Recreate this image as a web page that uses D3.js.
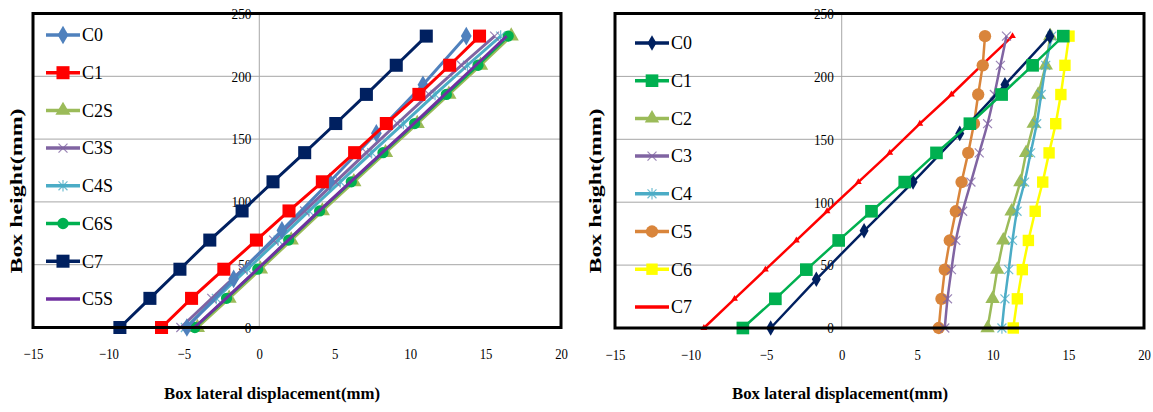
<!DOCTYPE html>
<html>
<head>
<meta charset="utf-8">
<script src="https://cdn.jsdelivr.net/npm/d3@7"></script>
<style>
  body { margin: 0; background: #fff; }
  svg { display: block; }
  text { font-family: "Liberation Serif", "Times New Roman", "DejaVu Serif", serif; }
</style>
</head>
<body>
<script>
// heights of the readings
const H11 = [0, 23.2, 46.4, 69.6, 92.8, 116, 139.2, 162.4, 185.6, 208.8, 232]
const H7 = [0, 38.7, 77.3, 116, 154.7, 193.3, 232]

// left panel
const L_C0 = [-4.8, -1.7, 1.5, 4.67, 7.76, 10.85, 13.72]
const L_C1 = [-6.48, -4.49, -2.35, -0.19, 1.97, 4.18, 6.32, 8.42, 10.58, 12.62, 14.6]
const L_C2S = [-4.1, -2.0, 0.08, 2.12, 4.18, 6.27, 8.37, 10.47, 12.57, 14.67, 16.7]
const L_C3S = [-5.2, -3.15, -1.1, 0.95, 3.0, 5.05, 7.1, 9.15, 11.25, 13.4, 15.6]
const L_C4S = [-4.9, -2.85, -0.8, 1.25, 3.3, 5.37, 7.45, 9.55, 11.65, 13.8, 16.0]
const L_C6S = [-4.27, -2.17, -0.1, 1.95, 4.0, 6.1, 8.2, 10.3, 12.4, 14.5, 16.5]
const L_C7 = [-9.24, -7.25, -5.26, -3.28, -1.14, 0.91, 3.01, 5.07, 7.1, 9.08, 11.07]
const L_C5S = [-4.3, -2.2, -0.13, 1.92, 3.97, 6.05, 8.15, 10.25, 12.3, 14.35, 16.4]

// right panel
const R_C0 = [-4.7, -1.68, 1.48, 4.72, 7.81, 10.8, 13.77]
const R_C1 = [-6.54, -4.39, -2.34, -0.2, 1.97, 4.17, 6.27, 8.48, 10.58, 12.63, 14.66]
const R_C2 = [9.65, 9.98, 10.29, 10.69, 11.24, 11.82, 12.2, 12.7, 13.0, 13.5, 13.8]
const R_C3 = [6.82, 7.0, 7.26, 7.55, 8.0, 8.55, 9.1, 9.65, 10.1, 10.5, 10.9]
const R_C4 = [10.6, 10.8, 11.05, 11.3, 11.6, 12.1, 12.5, 12.9, 13.2, 13.5, 13.9]
const R_C5 = [6.42, 6.6, 6.82, 7.15, 7.55, 7.93, 8.37, 8.75, 9.03, 9.33, 9.48]
const R_C6 = [11.35, 11.62, 11.95, 12.35, 12.8, 13.3, 13.72, 14.16, 14.5, 14.77, 15.04]
const R_C7 = [-9.12, -7.09, -5.05, -3.0, -0.97, 1.1, 3.18, 5.17, 7.26, 9.25, 11.3]

const X_TICKS = [-15, -10, -5, 0, 5, 10, 15, 20]
const Y_TICKS = [0, 50, 100, 150, 200, 250]
const X_TITLE = 'Box lateral displacement(mm)'
const Y_TITLE = 'Box height(mm)'

const leftSeries = [
  {name: 'C0', x: L_C0, y: H7, color: '#4f81bd', marker: 'diamond', size: 100},
  {name: 'C1', x: L_C1, y: H11, color: '#ff0000', marker: 'square', size: 170},
  {name: 'C2S', x: L_C2S, y: H11, color: '#9bbb59', marker: 'triangle', size: 100},
  {name: 'C3S', x: L_C3S, y: H11, color: '#8064a2', marker: 'x', size: 80},
  {name: 'C4S', x: L_C4S, y: H11, color: '#4bacc6', marker: 'star', size: 80},
  {name: 'C6S', x: L_C6S, y: H11, color: '#00b050', marker: 'circle', size: 100},
  {name: 'C7', x: L_C7, y: H11, color: '#002060', marker: 'square', size: 170},
  {name: 'C5S', x: L_C5S, y: H11, color: '#7030a0', marker: 'none', size: 0}
]
// drawing order (bottom to top) so the picture stacks like the original
const leftOrder = ['C2S', 'C6S', 'C4S', 'C3S', 'C5S', 'C0', 'C1', 'C7']

const rightSeries = [
  {name: 'C0', x: R_C0, y: H7, color: '#002060', marker: 'diamond', size: 70},
  {name: 'C1', x: R_C1, y: H11, color: '#00b050', marker: 'square', size: 160},
  {name: 'C2', x: R_C2, y: H11, color: '#9bbb59', marker: 'triangle', size: 90},
  {name: 'C3', x: R_C3, y: H11, color: '#8064a2', marker: 'x', size: 80},
  {name: 'C4', x: R_C4, y: H11, color: '#4bacc6', marker: 'star', size: 80},
  {name: 'C5', x: R_C5, y: H11, color: '#d9853b', marker: 'circle', size: 120},
  {name: 'C6', x: R_C6, y: H11, color: '#ffff00', marker: 'square', size: 130},
  {name: 'C7', x: R_C7, y: H11, color: '#ff0000', marker: 'tick', size: 20}
]
const rightOrder = ['C7', 'C5', 'C3', 'C2', 'C4', 'C6', 'C0', 'C1']

const W = 1153, HGT = 412
const SVG = d3.select('body').append('svg')
  .attr('width', W)
  .attr('height', HGT)

function markerPath(type, size) {
  if (type === 'diamond') return d3.symbol(d3.symbolDiamond, size)()
  if (type === 'square') return d3.symbol(d3.symbolSquare, size)()
  if (type === 'triangle') return d3.symbol(d3.symbolTriangle, size)()
  if (type === 'circle') return d3.symbol(d3.symbolCircle, size)()
  if (type === 'tick') return d3.symbol(d3.symbolTriangle, size)()
  const r = Math.sqrt(size) / 2
  if (type === 'x') return `M${-r},${-r}L${r},${r}M${-r},${r}L${r},${-r}`
  if (type === 'star') return `M${-r},${-r}L${r},${r}M${-r},${r}L${r},${-r}M0,${-r * 1.3}L0,${r * 1.3}`
  return null
}

function drawMarker(g, s, cx, cy) {
  const p = markerPath(s.marker, s.size)
  if (!p) return
  const open = s.marker === 'x' || s.marker === 'star'
  g.append('path')
    .attr('d', p)
    .attr('transform', `translate(${cx},${cy})`)
    .attr('fill', open ? 'none' : s.color)
    .attr('stroke', open ? s.color : 'none')
    .attr('stroke-width', open ? 1.2 : 0)
    .attr('opacity', open ? 0.8 : 1)
}

function panel(opts) {
  const x = d3.scaleLinear().domain([-15, 20]).range([opts.left, opts.right])
  const y = d3.scaleLinear().domain([0, 250]).range([opts.bottom, opts.top])
  const g = SVG.append('g')

  // horizontal grid lines
  g.selectAll('.grid')
    .data(Y_TICKS.slice(1, -1))
    .join('line')
    .attr('x1', opts.left).attr('x2', opts.right)
    .attr('y1', d => y(d)).attr('y2', d => y(d))
    .attr('stroke', '#a6a6a6')
    .attr('stroke-width', 1)

  // vertical line at x = 0
  g.append('line')
    .attr('x1', x(0)).attr('x2', x(0))
    .attr('y1', opts.top).attr('y2', opts.bottom)
    .attr('stroke', '#a6a6a6')

  // y tick labels next to the x = 0 line
  g.append('g')
    .attr('transform', `translate(${x(0)},0)`)
    .call(d3.axisLeft(y).tickValues(Y_TICKS).tickSize(0).tickPadding(9))
    .call(a => a.select('.domain').remove())
    .call(a => a.attr('font-family', null))
    .selectAll('text')
    .attr('font-size', 15)
    .attr('fill', '#000')
    .attr('transform', 'scale(0.88,1)')

  // x tick labels below the frame
  g.append('g')
    .attr('transform', `translate(0,${opts.bottom})`)
    .call(d3.axisBottom(x).tickValues(X_TICKS).tickSize(0).tickPadding(21))
    .call(a => a.select('.domain').remove())
    .call(a => a.attr('font-family', null))
    .selectAll('text')
    .attr('font-size', 15)
    .attr('fill', '#000')
    .attr('transform', 'scale(0.85,1)')

  // series
  const line = d3.line()
  opts.order.forEach(name => {
    const s = opts.series.find(d => d.name === name)
    const pts = s.x.map((v, i) => [x(v), y(s.y[i])])
    const sg = g.append('g')
    sg.append('path')
      .attr('d', line.curve(s.marker === 'none' || s.name === 'C3' || s.name === 'C4' ? d3.curveMonotoneY : d3.curveLinear)(pts))
      .attr('fill', 'none')
      .attr('stroke', s.color)
      .attr('stroke-width', opts.lw)
    pts.forEach(p => drawMarker(sg, s, p[0], p[1]))
  })

  // frame
  g.append('rect')
    .attr('x', opts.left).attr('y', opts.top)
    .attr('width', opts.right - opts.left)
    .attr('height', opts.bottom - opts.top)
    .attr('fill', 'none')
    .attr('stroke', '#000')
    .attr('stroke-width', 3)

  // legend
  const lg = g.append('g')
  opts.series.forEach((s, i) => {
    const ly = opts.legendTop + i * 37.7
    lg.append('line')
      .attr('x1', opts.legendX).attr('x2', opts.legendX + 34)
      .attr('y1', ly).attr('y2', ly)
      .attr('stroke', s.color)
      .attr('stroke-width', 3.5)
    if (s.marker !== 'tick') drawMarker(lg, s, opts.legendX + 17, ly)
    lg.append('text')
      .attr('x', opts.legendX + 36)
      .attr('y', ly)
      .attr('dy', '0.35em')
      .attr('font-size', 18)
      .text(s.name)
  })

  // axis titles
  g.append('text')
    .attr('x', opts.xTitleX)
    .attr('y', 399)
    .attr('text-anchor', 'middle')
    .attr('font-size', 16)
    .attr('font-weight', 'bold')
    .attr('textLength', 216)
    .attr('lengthAdjust', 'spacingAndGlyphs')
    .text(X_TITLE)

  g.append('text')
    .attr('transform', `translate(${opts.yTitleX},191) rotate(-90)`)
    .attr('text-anchor', 'middle')
    .attr('font-size', 16)
    .attr('font-weight', 'bold')
    .attr('textLength', 165)
    .attr('lengthAdjust', 'spacingAndGlyphs')
    .text(Y_TITLE)
}

panel({
  left: 33, right: 561, top: 13.5, bottom: 327.5,
  series: leftSeries, order: leftOrder, lw: 3,
  legendX: 46, legendTop: 35,
  xTitleX: 272, yTitleX: 22
})

panel({
  left: 615, right: 1144, top: 13.5, bottom: 328,
  series: rightSeries, order: rightOrder, lw: 2.5,
  legendX: 635, legendTop: 43,
  xTitleX: 840, yTitleX: 601
})
</script>
</body>
</html>
